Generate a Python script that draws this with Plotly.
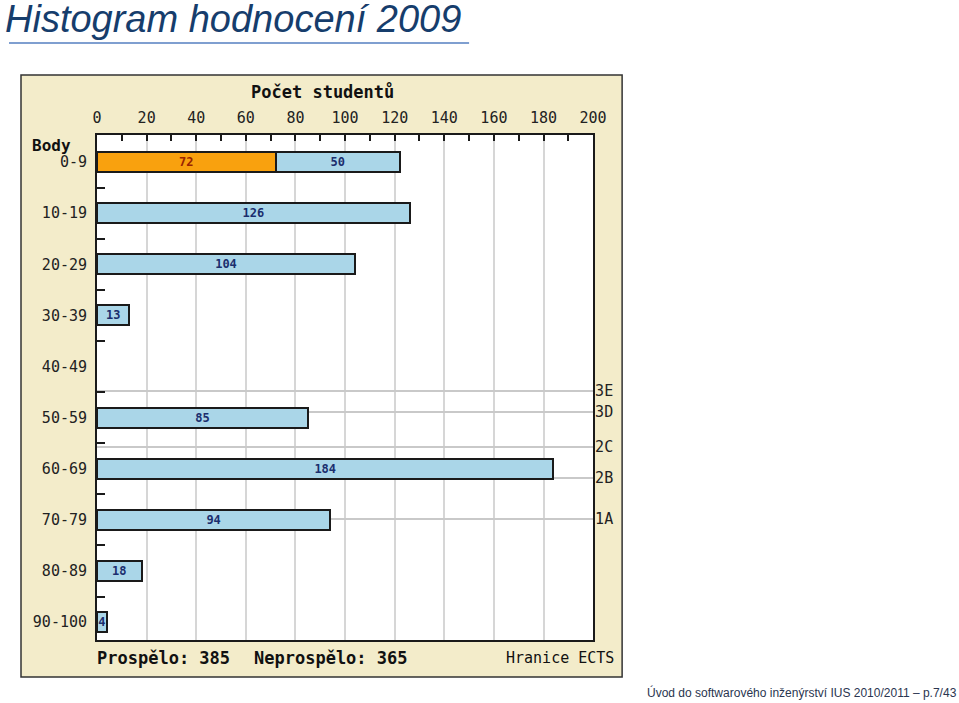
import plotly.graph_objects as go

# ---------------- data ----------------
categories = ["0-9", "10-19", "20-29", "30-39", "40-49",
              "50-59", "60-69", "70-79", "80-89", "90-100"]
orange_values = [72, None, None, None, None, None, None, None, None, None]
blue_values = [50, 126, 104, 13, None, 85, 184, 94, 18, 4]
x_tick_values = [0, 20, 40, 60, 80, 100, 120, 140, 160, 180, 200]
ects_labels = ["3E", "3D", "2C", "2B", "1A"]
ects_positions = [4.48, 4.88, 5.57, 6.18, 6.98]
passed_total = 385
failed_total = 365

# ---------------- helpers ----------------
W, H = 959, 703
def px(x):
    # compensate the horizontal squeeze observed in the rendered page
    return ((x - 4.0) / 0.98) / W
def py(y):
    return 1 - y / H

MONO = "DejaVu Sans Mono"
INK = "#1a1a1a"
y_pos = list(range(len(categories)))
y_range = [9.35, -0.53]

def lab(v):
    return "" if v is None else str(v)

fig = go.Figure()
fig.add_trace(go.Bar(
    x=orange_values, y=y_pos, orientation="h", width=0.39,
    marker=dict(color="#F9A10E", line=dict(color=INK, width=2)),
    text=[lab(v) for v in orange_values], textposition="inside",
    insidetextanchor="middle", textangle=0,
    textfont=dict(family=MONO, size=12, color="#9A2400", weight="bold"),
    hoverinfo="skip", showlegend=False))
fig.add_trace(go.Bar(
    x=blue_values, y=y_pos, orientation="h", width=0.39,
    marker=dict(color="#AAD6E8", line=dict(color=INK, width=2)),
    text=[lab(v) for v in blue_values], textposition="inside",
    insidetextanchor="middle", textangle=0,
    textfont=dict(family=MONO, size=12, color="#1B2E6E", weight="bold"),
    hoverinfo="skip", showlegend=False))
# helper traces so overlaying axes are drawn
fig.add_trace(go.Scatter(x=[None], y=[None], yaxis="y2", showlegend=False, hoverinfo="skip"))
fig.add_trace(go.Scatter(x=[None], y=[None], yaxis="y3", showlegend=False, hoverinfo="skip"))

fig.update_layout(
    width=W, height=H, margin=dict(l=0, r=0, t=0, b=0),
    paper_bgcolor="white", plot_bgcolor="rgba(0,0,0,0)",
    barmode="stack", showlegend=False,
    uniformtext=dict(minsize=12, mode="show"),
    xaxis=dict(
        domain=[px(96), px(592)], range=[0, 200], side="top",
        tickmode="array", tickvals=x_tick_values,
        ticks="inside", ticklen=6, tickwidth=2, tickcolor=INK,
        minor=dict(dtick=10, tick0=0, ticks="inside", ticklen=6,
                   tickwidth=2, tickcolor=INK, showgrid=False),
        showgrid=True, gridcolor="#D6D6D6", gridwidth=1.5,
        showline=True, mirror=True, linecolor=INK, linewidth=2,
        zeroline=False, ticklabelstandoff=4,
        tickfont=dict(family=MONO, size=15, color="#222"),
        fixedrange=True),
    yaxis=dict(
        domain=[py(640), py(135)], range=y_range,
        tickmode="array", tickvals=[i + 0.5 for i in range(9)],
        ticktext=[""] * 9,
        ticks="inside", ticklen=8, tickwidth=2, tickcolor=INK,
        showgrid=False, showline=True, mirror=True,
        linecolor=INK, linewidth=2, zeroline=False, fixedrange=True),
    yaxis2=dict(
        overlaying="y", side="left", range=y_range,
        tickmode="array", tickvals=y_pos, ticktext=categories,
        ticks="", showgrid=False, showline=False, zeroline=False,
        ticklabelstandoff=9,
        tickfont=dict(family=MONO, size=15, color="#222"),
        fixedrange=True),
    yaxis3=dict(
        overlaying="y", side="right", range=y_range,
        tickmode="array", tickvals=ects_positions, ticktext=ects_labels,
        ticks="", showgrid=True, gridcolor="#C9C9C9", gridwidth=1.5,
        showline=False, zeroline=False, ticklabelstandoff=1,
        tickfont=dict(family=MONO, size=15, color="#222"),
        fixedrange=True),
)

# frame of the embedded chart image
fig.add_shape(type="rect", xref="paper", yref="paper", layer="below",
              x0=px(20), x1=px(621), y0=py(677), y1=py(75),
              fillcolor="#F3ECCA", line=dict(color="#333", width=1.5))
fig.add_shape(type="rect", xref="paper", yref="paper", layer="below",
              x0=px(96), x1=px(592), y0=py(640), y1=py(135),
              fillcolor="white", line=dict(width=0))
# slide title underline
fig.add_shape(type="line", xref="paper", yref="paper",
              x0=px(8), x1=px(468), y0=py(43), y1=py(43),
              line=dict(color="#7F9FD0", width=2))

def ann(text, x, y, xanchor, size, bold=False, family=MONO, color="#111", italic=False):
    fig.add_annotation(
        text=text, x=px(x), y=py(y), xref="paper", yref="paper",
        xanchor=xanchor, yanchor="middle", showarrow=False,
        font=dict(family=family, size=size, color=color,
                  weight="bold" if bold else "normal",
                  style="italic" if italic else "normal"))

ann("Histogram hodnocení 2009", 2, 19, "left", 38,
    family="Liberation Sans", color="#163D6C", italic=True)
ann("Počet studentů", 321, 91, "center", 17, bold=True)
ann("Body", 29, 146, "left", 16, bold=True)
ann(f"Prospělo: {passed_total}", 94, 658, "left", 17, bold=True)
ann(f"Neprospělo: {failed_total}", 251, 658, "left", 17, bold=True)
ann("Hranice ECTS", 615, 658, "right", 15)
ann("Úvod do softwarového inženýrství IUS 2010/2011 – p.7/43", 958, 692,
    "right", 12, family="Liberation Sans", color="#2A3550")

fig.write_html("out.html")
